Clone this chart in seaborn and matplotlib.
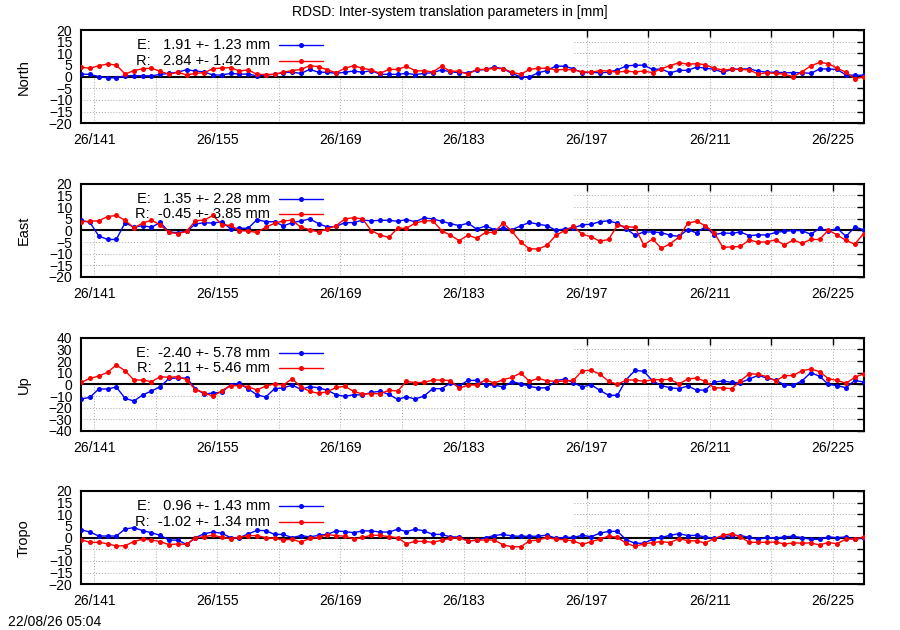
import numpy as np
import pandas as pd
import matplotlib
matplotlib.use("Agg")
import matplotlib.pyplot as plt
from matplotlib.patches import Rectangle
from matplotlib.lines import Line2D
import seaborn as sns

# ---------------- data ----------------
first_day = 139.5
n_days = 90
days = [first_day + i for i in range(n_days)]

panel_names = ["North", "East", "Up", "Tropo"]
panel_limits = [20, 20, 40, 20]
panel_steps = [5, 5, 10, 5]

north_E = [1.1, 1, 0, -0.5, -0.5, 0.4, 0.4, 0.4, 0.3, 1, 1.4, 1.9, 3, 2.4, 2, 0.7, 0.7, 1.4, 1.1, 1.1,
           0.3, 0.7, 1, 1.7, 1.9, 1.4, 3.1, 1.9, 1.9, 1.4, 1.9, 2.4, 1.9, 2.6, 1, 1, 1, 1.4, 0.9, 1.4,
           1.7, 2.9, 2.1, 1.7, 1.7, 2.7,
           3.1, 4.1, 3.4, 1.4, -0.1, -0.1, 1.7, 2.6, 4.6, 4.4, 3.4, 1.6, 1.9, 1.6, 1.9, 2.9, 4.6, 4.9,
           4.9, 3.1, 3.3, 1.6, 2.7, 2.7, 4.1, 3.7, 3.1, 1.9, 3.1, 3.3, 3.3, 2.4, 1.9, 1.9, 1.7, 1.7,
           1.7, 1.4, 3.3, 3.3, 3.1, 0.7, 0.6, 0.6]
north_R = [4, 3.6, 4.7, 5.4, 5, 1.1, 2.6, 3.4, 3.6, 2.3, 1, 1.9, 0.7, 1.4, 1.7, 3.4, 3.7, 3.9, 2.4, 2.9,
           1, 0.9, 1, 1.9, 2.6, 3.1, 4.7, 4.3, 2.9, 1.7, 3.6, 4.7, 3.6, 2.9, 1.4, 3.1, 3.1, 4.4, 2.6, 2.4,
           2.1, 4.4, 2.3, 2.4, 1, 3.1,
           3.1, 3.6, 3.4, 1.9, 1, 3.1, 3.6, 3.6, 2.9, 3.1, 2.9, 2.1, 1.9, 2.6, 2.4, 1.9, 2.4, 2, 2.4,
           1.7, 3.4, 4.7, 6, 5.3, 5.6, 5.1, 3.6, 2.9, 3.1, 3.1, 2.9, 1.1, 1.7, 1.4, 1, 0, 2.1, 4.6,
           6.1, 5.6, 3.6, 1.9, -0.9, 0]

east_E = [4.3, 3.4, -2.4, -3.9, -3.9, 3.3, 1.3, 2, 1.3, 3.4, -0.7, -1, -0.4, 2.7, 3.3, 3.1, 3.7, 0.7, 0.9,
          0.9, 4.6, 3.7, 3.7, 1.9, 3.3, 4, 4.9, 2.9, 1.4, 1.7, 3.3, 3.3, 4.4, 4.1, 4.3, 4.3, 3.9, 4.6,
          3.7, 5.3, 4.9, 3.9, 2.9, 2, 3.1, 0.5,
          1.9, 0.3, 0.9, 0.3, 1.9, 3.4, 2.6, 2, 0, 0.6, 1, 2.4, 2.6, 3.7, 4.1, 3, 0.7, -2.1, -0.7, -0.7,
          -1, -2.1, -2.6, 0.3, -1.1, 1.6, -1.9, -1.1, -1.3, -0.7, -2.3, -1.9, -2, -0.9, -0.4, -0.1,
          -0.1, -1.7, 0.9, -0.4, 0.9, -2.6, 1.4, 0.3]
east_R = [3.7, 3.9, 4.1, 5.9, 6.4, 4.3, 1.1, 3.1, 4.4, 2.3, -0.9, -1.4, -0.4, 4.1, 4.4, 6.4, 2.4, 2.1, -0.1,
          -0.3, -0.9, 1.4, 3, 4.1, 4.3, 1.3, 0.3, -0.7, 0.6, 2, 4.9, 5.4, 4.9, -0.1, -2, -3, 0.9, 0.9,
          3.1, 4.1, 4.1, -0.1, -2.1, -4.4, -2.1, -3.4,
          -0.9, -0.9, 3.1, -0.4, -5, -7.9, -8, -6.4, -2.1, -0.1, 1.7, -1.7, -2.7, -4.7, -3.9, 2.1, 1.6,
          1.3, -6.3, -3.7, -7.7, -5.7, -3, 3.1, 3.9, 2, -1, -7.3, -7.1, -6.9, -4.1, -5.1, -4.9, -4.1,
          -6.3, -4.1, -5.6, -3.9, -3.9, 0.1, -2, -4.3, -5.9, -1.4]

up_E = [-12.6, -11.1, -4, -4, -2.3, -12, -14.3, -9.1, -5.7, -2, 5.1, 5.4, 5.4, -3.7, -8.3, -7.4, -6.9, -0.3,
        0.9, -4, -8.9, -10.9, -3.7, -3.1, -0.6, -4.3, -2, -2.9, -5.1, -8.9, -10.3, -8.9, -9.1, -6.9, -6,
        -8.6, -12.9, -10.6, -12.6, -10, -3.7, -3.7, 1.1, -1.4, 3.4, 3.4,
        -0.6, -0.6, -2.3, 2.3, 0.6, -1.7, -3.1, -2.9, 3.1, 4.6, 1.4, -2.3, -0.3, -5.1, -9.4, -9.4, 4, 12,
        11.1, 3.1, -1.1, -2.9, -3.7, -1.4, -4.9, -4.9, 2, 2.9, 1.7, 1.4, 4.6, 7.7, 5.4, 3.7, -0.6, -0.9,
        3.1, 10, 6.9, 0, -1.1, -2.9, 3.4, 2]
up_R = [1.7, 5.1, 7.1, 10.3, 16.6, 11.7, 3.7, 3.7, 2.3, 6.6, 6, 6.6, 4, -4.6, -7.1, -10.3, -5.4, -1.1, -1.1,
        -2, -4.9, -1.4, 0.3, -0.6, 4.9, -2.3, -6, -7.7, -6.3, -2.6, -1.7, -6, -8.3, -8, -8, -5.1, -5.7,
        2.6, 1.4, 1.7, 3.7, 3.7, 3.1, -3.4, -0.6, -0.6,
        4, 1.1, 4, 6, 9.7, 2.6, 5.1, 3.1, 2.6, 2.9, 3.4, 11.7, 12, 8.9, 2.6, 0, 3.7, 3.7, 2.6, 4, 4, 4.3,
        0.3, 4.6, 5.4, 2.6, -2.9, -3.1, -3.7, 3.1, 9.1, 8.6, 6.6, 2.9, 7.4, 7.7, 11.7, 13.1, 10.9, 4.9,
        3.4, 0.9, 6, 9.1]

tropo_E = [3.4, 2.4, 0.7, 0.7, 0.7, 3.7, 4.3, 3, 2.1, 1, -1, -1.1, -2.9, 0, 1.7, 2.4, 1.9, 0, 0, 1.6, 3.1,
           3, 1.4, 1.4, 0, 0.9, 0.3, 1, 1.4, 2.9, 2.6, 2.1, 2.9, 2.9, 2.4, 2.4, 3.6, 2.6, 3.6, 2.9, 1.4,
           1.4, 0.3, 0.3, -1.4, -1.1,
           0, 0.9, 1.4, 0.7, 0.6, 0.6, 0.6, 1.1, -0.3, 0.1, 0.1, 1, 0.4, 1.9, 2.7, 2.7, -0.9, -2.4, -2.4,
           -0.7, 0.1, 1, 1.7, 0.9, 1, 0.3, -0.3, 0.4, 0.9, 0.9, 0.1, -0.7, 0.1, -0.3, 0.4, 0.6, 0, -0.7,
           -0.7, 0.3, 0, 0.3, -0.7, 0]
tropo_R = [-0.9, -2, -2, -2.6, -3.6, -3.4, -1.7, -0.6, -1, -1.7, -3, -2.7, -2.9, 0, 0.4, 1.1, 0.1, -0.4, 0.1,
           0.9, 0.9, 0, -0.3, -1, -0.7, -1.9, -0.3, 0.1, 1.3, 0.9, 0.6, -0.6, 0.1, 1, 1, 0.4, 0, -2.6,
           -1.6, -1.6, -2, -1.1, -0.3, 0, -1.4, -1.1,
           -1, -1, -3.1, -3.9, -3.9, -1.4, -1, 0.1, -0.7, -0.9, -1.4, -2.9, -1.7, -0.7, 0.7, 0.1, -2.4,
           -3.7, -2.7, -2.1, -1.7, -2.1, -0.4, -1.3, -1.4, -2.3, -0.4, 1, 1.7, 0.3, -2, -2, -2, -1.9,
           -2.7, -2.3, -2.3, -2.3, -3.1, -2.1, -2.6, -0.6, -0.6, 0.3]

series_E = [north_E, east_E, up_E, tropo_E]
series_R = [north_R, east_R, up_R, tropo_R]

# legend statistics as printed in the chart
stat_E_mean = [1.91, 1.35, -2.40, 0.96]
stat_E_std = [1.23, 2.28, 5.78, 1.43]
stat_R_mean = [2.84, -0.45, 2.11, -1.02]
stat_R_std = [1.42, 3.85, 5.46, 1.34]

title_text = "RDSD: Inter-system translation parameters in [mm]"
stamp_text = "22/08/26 05:04"
year_prefix = "26"
tick_days = list(range(141, 229, 7))
label_every = 14

# ---------------- style ----------------
sns.set_theme(style="white")
plt.rcParams["font.family"] = ["Liberation Sans", "DejaVu Sans"]
plt.rcParams["axes.linewidth"] = 1.5

W, H = 900, 630
fig = plt.figure(figsize=(9, 6.3), dpi=100)

left_px, right_px = 80.7, 864.0
top_px = [30.0, 183.7, 337.7, 491.0]
ax_h_px = 93.3
xmin, xmax = 139.45, 228.55
key_right_day = 195.46

colors = {"E": "#0000ff", "R": "#ff0000"}

for i in range(4):
    bottom = 1 - (top_px[i] + ax_h_px) / H
    ax = fig.add_axes([left_px / W, bottom, (right_px - left_px) / W, ax_h_px / H])
    df = pd.DataFrame({"day": days, "E": series_E[i], "R": series_R[i]})
    long = df.melt(id_vars="day", var_name="series", value_name="value")
    sns.lineplot(data=long, x="day", y="value", hue="series", palette=colors,
                 marker="o", markersize=3.6, markeredgewidth=0, linewidth=1.0,
                 ax=ax, legend=False, sort=False, zorder=3)

    lim = panel_limits[i]
    ax.set_xlim(xmin, xmax)
    ax.set_ylim(-lim, lim)
    ax.set_yticks(np.arange(-lim, lim + 1, panel_steps[i]))
    ax.set_xticks(tick_days)
    ax.set_xticklabels([f"{year_prefix}/{d}" if (d - tick_days[0]) % label_every == 0 else ""
                        for d in tick_days])
    ax.tick_params(direction="in", top=True, right=True, length=5, width=1.0,
                   labelsize=10, colors="black")
    ax.tick_params(axis="y", pad=6)
    ax.tick_params(axis="x", pad=7)
    ax.grid(True, color="#a8a8a8", linestyle=(0, (1, 2)), linewidth=0.7)
    ax.set_axisbelow(True)
    for sp in ax.spines.values():
        sp.set_color("black")
        sp.set_linewidth(1.5)

    # opaque key box hides grid in the upper-left area
    ax.add_patch(Rectangle((xmin, 0), key_right_day - xmin, lim, facecolor="white",
                           edgecolor="none", zorder=1))
    ax.axhline(0, color="black", linewidth=1.5, zorder=2.5)

    ax.set_xlabel("")
    ax.set_ylabel(panel_names[i], fontsize=10.5, color="black")
    ax.yaxis.set_label_coords((31 - left_px) / (right_px - left_px), 0.5)

    # key
    tx = (270 - left_px) / (right_px - left_px)
    l0 = (279 - left_px) / (right_px - left_px)
    l1 = (323.3 - left_px) / (right_px - left_px)
    rows = [1 - 15.0 / ax_h_px, 1 - 30.7 / ax_h_px]
    entries = [("E", stat_E_mean[i], stat_E_std[i]), ("R", stat_R_mean[i], stat_R_std[i])]
    for (name, m, s), yy in zip(entries, rows):
        ax.text(tx, yy, f"{name}:  {m:5.2f} +- {s:4.2f} mm", transform=ax.transAxes,
                ha="right", va="center", fontsize=10.5, color="black", zorder=5)
        ax.add_line(Line2D([l0, l1], [yy, yy], transform=ax.transAxes, color=colors[name],
                           linewidth=1.0, zorder=5))
        ax.add_line(Line2D([(l0 + l1) / 2], [yy], transform=ax.transAxes, color=colors[name],
                           marker="o", markersize=3.6, markeredgewidth=0, zorder=5))

fig.text(0.5, 1 - 12 / H, title_text, ha="center", va="center", fontsize=10, color="black")
fig.text(8 / W, 1 - 621.7 / H, stamp_text, ha="left", va="center", fontsize=10, color="black")

fig.savefig("out.png", dpi=100, facecolor="white")
